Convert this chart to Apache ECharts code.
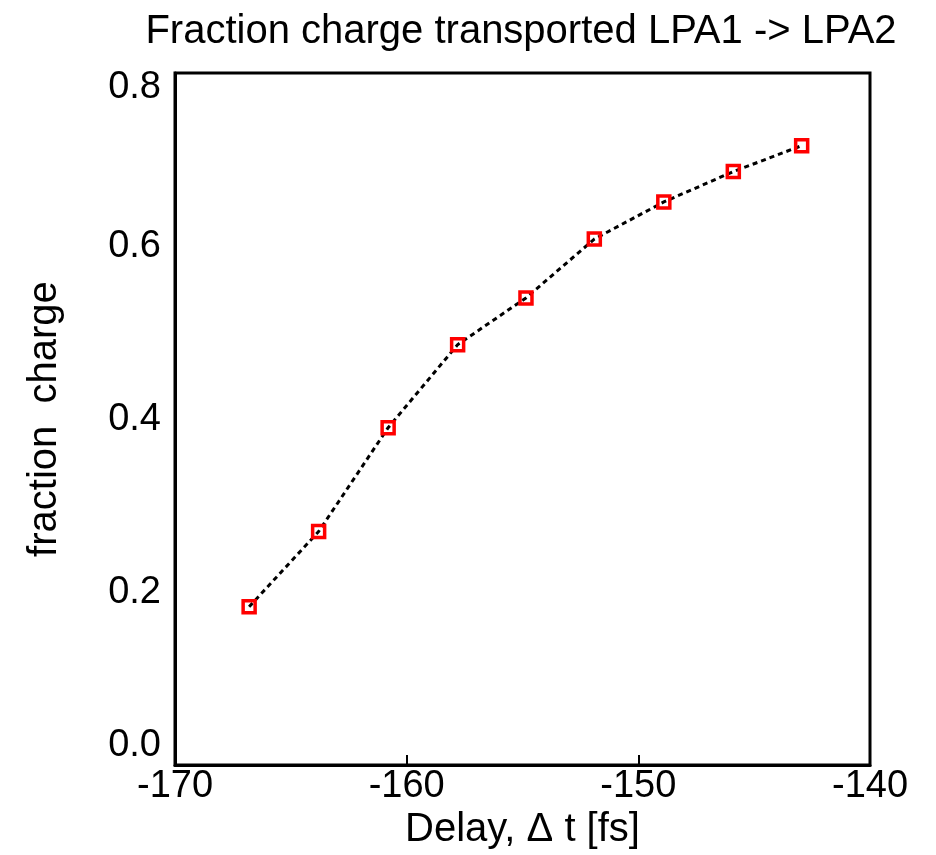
<!DOCTYPE html>
<html>
<head>
<meta charset="utf-8">
<script src="https://cdn.jsdelivr.net/npm/echarts@6/dist/echarts.min.js"></script>
<style>html,body{margin:0;padding:0;background:#fff;}#c{width:936px;height:855px;}</style>
</head>
<body>
<div id="c"></div>
<script>
const titleText = 'Fraction charge transported LPA1 -> LPA2';
const xName = 'Delay, \u0394 t [fs]';
const yName = 'fraction  charge';
const delays = [-166.8, -163.8, -160.8, -157.8, -154.85, -151.9, -148.9, -145.9, -142.95];
const fractions = [0.183, 0.270, 0.390, 0.486, 0.540, 0.608, 0.651, 0.686, 0.716];
const xTicks = [-170, -160, -150, -140];
const yTicks = [0.0, 0.2, 0.4, 0.6, 0.8];

const chart = echarts.init(document.getElementById('c'), null, {renderer: 'canvas'});
const font = 'Liberation Sans';
chart.setOption({
  animation: false,
  backgroundColor: '#fff',
  title: {
    text: titleText,
    left: 516, top: 7, textAlign: 'center',
    textStyle: {fontFamily: font, fontSize: 40, fontWeight: 'normal', color: '#000'}
  },
  grid: {left: 175, top: 73, right: 66, bottom: 72, show: true, borderColor: '#000', borderWidth: 3, containLabel: false},
  xAxis: {
    type: 'value', min: xTicks[0], max: xTicks[xTicks.length - 1], interval: 10,
    name: xName, nameLocation: 'middle', nameGap: 42,
    nameTextStyle: {fontFamily: font, fontSize: 40, color: '#000'},
    axisLine: {show: true, lineStyle: {color: '#000', width: 3}},
    axisTick: {show: true, inside: true, length: 10, lineStyle: {color: '#000', width: 2}},
    axisLabel: {fontFamily: font, fontSize: 38, color: '#000', margin: 2},
    splitLine: {show: false}
  },
  yAxis: {
    type: 'value', min: yTicks[0], max: yTicks[yTicks.length - 1], interval: 0.2,
    name: yName, nameLocation: 'middle', nameGap: 110,
    nameTextStyle: {fontFamily: font, fontSize: 40, color: '#000'},
    axisLine: {show: true, lineStyle: {color: '#000', width: 3}},
    axisTick: {show: false},
    axisLabel: {
      fontFamily: font, fontSize: 38, color: '#000', margin: 14,
      formatter: function (v) {
        const s = v.toFixed(1);
        if (Math.abs(v - yTicks[0]) < 1e-9) return '{lo|' + s + '}';
        if (Math.abs(v - yTicks[yTicks.length - 1]) < 1e-9) return '{hi|' + s + '}';
        return s;
      },
      rich: {
        lo: {fontFamily: font, fontSize: 38, color: '#000', padding: [0, 0, 40, 0]},
        hi: {fontFamily: font, fontSize: 38, color: '#000', padding: [30, 0, 0, 0]}
      }
    },
    splitLine: {show: false}
  },
  series: [{
    type: 'line',
    data: delays.map((d, i) => [d, fractions[i]]),
    symbol: 'rect', symbolSize: 12,
    itemStyle: {color: 'rgba(255,255,255,0)', borderColor: '#ff0000', borderWidth: 3.5},
    lineStyle: {color: '#000', width: 3, type: [5, 4]},
    z: 3
  }]
});
</script>
</body>
</html>
